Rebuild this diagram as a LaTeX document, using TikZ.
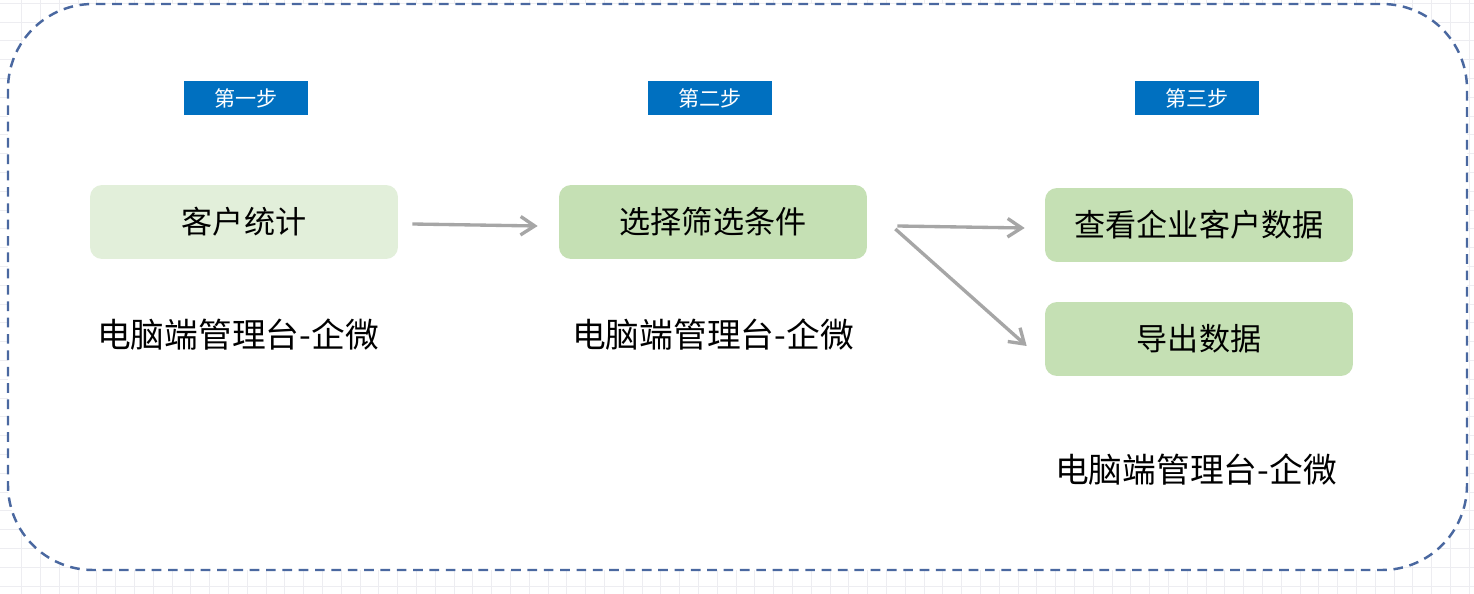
\documentclass[tikz,border=0pt]{standalone}
\usepackage{fontspec}
\usepackage{tikz}
\usepackage{xcolor}
\usetikzlibrary{arrows.meta, positioning}
\newfontfamily\cjk{Noto Sans CJK SC}
\definecolor{stepblue}{HTML}{0070C0}
\definecolor{palegreen}{HTML}{E2EFDA}
\definecolor{midgreen}{HTML}{C5E0B4}
\definecolor{framblue}{HTML}{4A68A0}
\definecolor{arrowgray}{HTML}{A6A6A6}
\definecolor{gridgray}{HTML}{EDEDF1}
\tikzset{
    steptag/.style={fill=stepblue, text=white, minimum width=2.48cm, minimum height=0.68cm, inner sep=0pt, font=\cjk\fontsize{12}{14}\selectfont},
    taskbox/.style={rounded corners=0.24cm, minimum width=6.16cm, minimum height=1.48cm, inner sep=0pt, font=\cjk\fontsize{17.7}{21}\selectfont},
    platform/.style={font=\cjk\fontsize{19.2}{23}\selectfont, inner sep=0pt},
    flow/.style={draw=arrowgray, line width=1.9pt, -{Straight Barb[length=8pt, width=10.5pt, line width=1.9pt]}}
}

\begin{document}
\begin{tikzpicture}[x=0.02cm, y=-0.02cm]
    \useasboundingbox (0,0) rectangle (1474,594);

    % Background grid
    \foreach \i in {0,...,77} {
        \draw[gridgray, line width=0.5pt] ({21.6+18.8*\i},0) -- ({21.6+18.8*\i},594);
    }
    \foreach \j in {0,...,31} {
        \draw[gridgray, line width=0.5pt] (0,{586-18.8*\j}) -- (1474,{586-18.8*\j});
    }

    % Dashed frame
    \draw[framblue, fill=white, line width=1.4pt, dash pattern=on 5.5pt off 3.8pt, rounded corners=1.7cm] (8,4) rectangle (1467,570);

    % Step tags
    \node[steptag] (tag1) at (246,98) {第一步};
    \node[steptag] (tag2) at (710,98) {第二步};
    \node[steptag] (tag3) at (1197,98) {第三步};

    % Task boxes
    \node[taskbox, fill=palegreen] (stats) at (244,222) {客户统计};
    \node[taskbox, fill=midgreen] (filter) at (713,222) {选择筛选条件};
    \node[taskbox, fill=midgreen] (view) at (1199,225) {查看企业客户数据};
    \node[taskbox, fill=midgreen] (export) at (1199,339) {导出数据};

    % Platform labels
    \node[platform] (plat1) at (238,335) {电脑端管理台-企微};
    \node[platform] (plat2) at (713,335) {电脑端管理台-企微};
    \node[platform] (plat3) at (1196,470) {电脑端管理台-企微};

    % Arrows
    \draw[flow] ([xshift=0.28cm, yshift=-0.04cm]stats.east) -- ([xshift=-0.42cm, yshift=-0.08cm]filter.west);
    \draw[flow] ([xshift=0.6cm, yshift=-0.08cm]filter.east) -- ([xshift=-0.4cm, yshift=-0.06cm]view.west);
    \draw[flow] ([xshift=0.56cm, yshift=-0.14cm]filter.east) -- ([xshift=-0.36cm, yshift=-0.14cm]export.west);
\end{tikzpicture}
\end{document}
